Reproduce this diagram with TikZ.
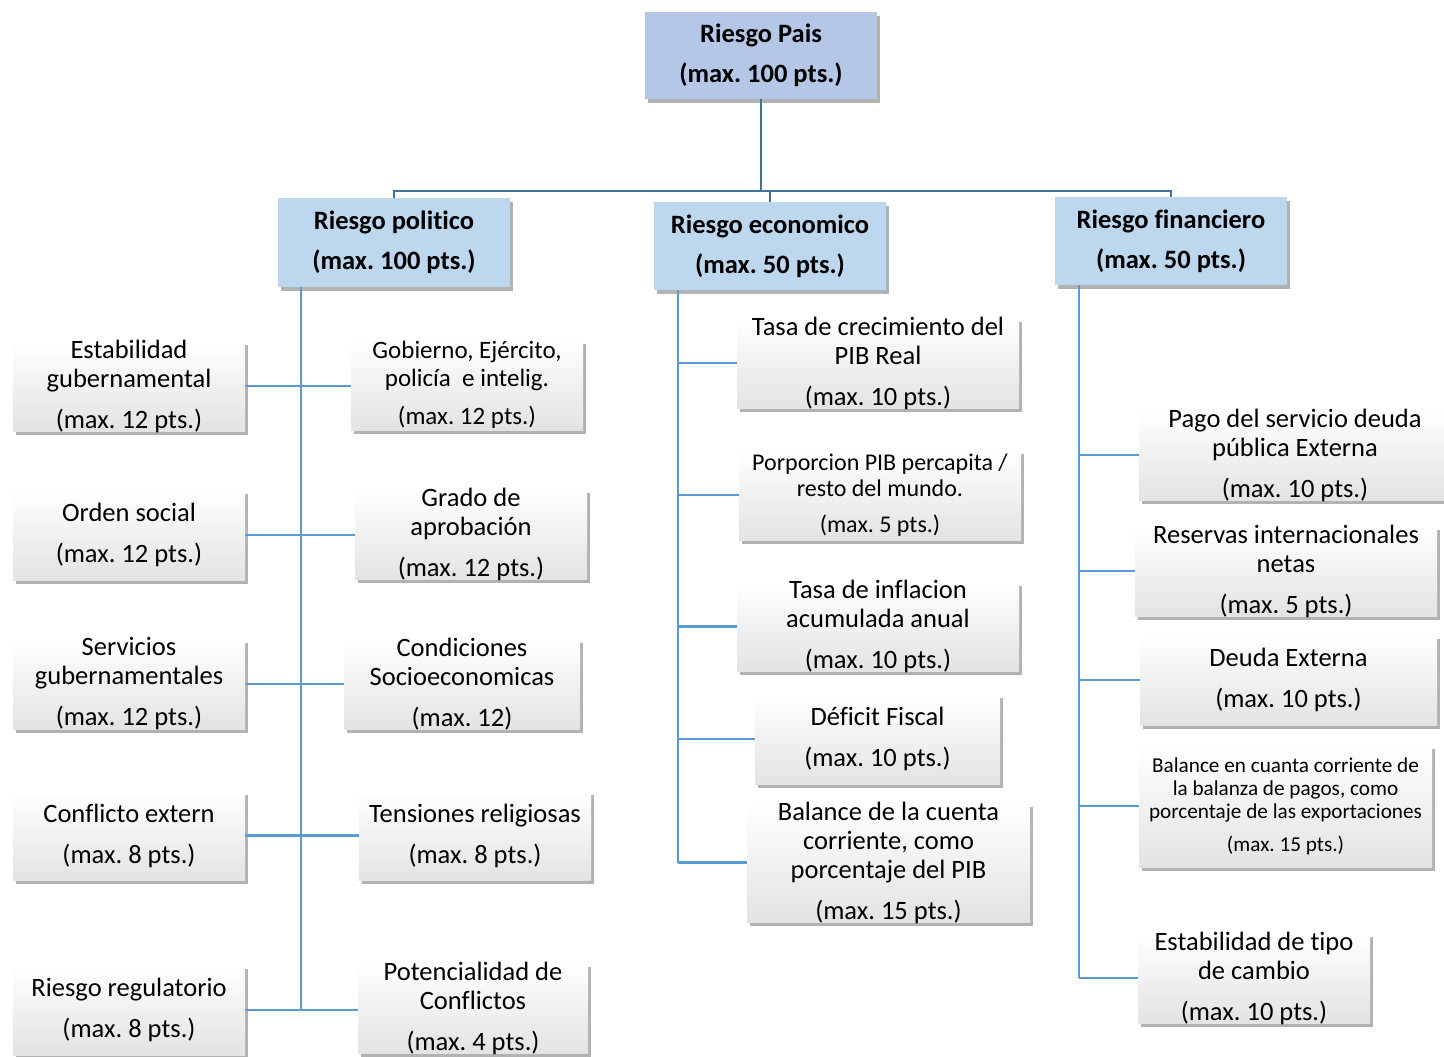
\documentclass[tikz,border=0pt]{standalone}
\usepackage{fontspec}
\setmainfont[RawFeature={-liga;-clig;-dlig}]{Carlito}
\usetikzlibrary{shadows}
\definecolor{topline}{HTML}{41719C}
\definecolor{subline}{HTML}{5B9BD5}
\definecolor{paisfill}{HTML}{B4C7E7}
\definecolor{lvlfill}{HTML}{BDD7EE}
\newcommand\fnorm{\fontsize{26.5}{29}\selectfont}
\newcommand\fgob{\fontsize{25}{28}\selectfont}
\newcommand\fpor{\fontsize{24}{26}\selectfont}
\newcommand\fbal{\fontsize{21.2}{23}\selectfont}
\newcommand\fhead{\bfseries\fontsize{26.5}{40}\selectfont}
\newcommand\mkbox[8]{%
  \node[#6, minimum width=#4pt, minimum height=#5pt] (#1) at (#2,#3) {};
  \node[txt, font=#7] (#1t) at (#1.center) {#8};}
\tikzset{
  x=1pt, y=-1pt,
  shad/.style={drop shadow={shadow xshift=3pt, shadow yshift=-4pt, opacity=0.3, fill=black}},
  wbox/.style={rectangle, inner sep=0pt, top color=white, middle color=white, bottom color=black!11, shad},
  pbox/.style={rectangle, inner sep=0pt, fill=paisfill, shad},
  hbox/.style={rectangle, inner sep=0pt, fill=lvlfill, shad},
  txt/.style={inner sep=0pt, align=center},
  tconn/.style={draw=topline, line width=2.2pt},
  sconn/.style={draw=subline, line width=2.6pt},
}
\begin{document}
\frenchspacing
\begin{tikzpicture}
\useasboundingbox (0,0) rectangle (1444,1057);
\fill[white] (0,0) rectangle (1444,1057);
\coordinate (bus) at (0,191);
\coordinate (polx) at (301,0);
\coordinate (ecox) at (678,0);
\coordinate (finx) at (1079,0);

\mkbox{pais}{761}{55.5}{232}{87}{pbox}{\fhead}{Riesgo Pais\\(max. 100 pts.)}
\mkbox{pol}{394}{242.5}{232}{89}{hbox}{\fhead}{Riesgo politico\\(max. 100 pts.)}
\mkbox{eco}{770}{246}{232}{88}{hbox}{\fhead}{Riesgo economico\\(max. 50 pts.)}
\mkbox{fin}{1171}{241}{232}{88}{hbox}{\fhead}{Riesgo financiero\\(max. 50 pts.)}

\draw[tconn] (pais.south) -- (pais.south |- bus) -| (pol.north);
\draw[tconn] (pais.south) -- (pais.south |- bus) -| (eco.north);
\draw[tconn] (pais.south) -- (pais.south |- bus) -| (fin.north);

\mkbox{l1}{129}{386}{232}{90}{wbox}{\fnorm}{Estabilidad\\gubernamental\\[12pt](max. 12 pts.)}
\mkbox{l2}{129}{535}{232}{90}{wbox}{\fnorm}{Orden social\\[12pt](max. 12 pts.)}
\mkbox{l3}{129}{684}{232}{90}{wbox}{\fnorm}{Servicios\\gubernamentales\\[12pt](max. 12 pts.)}
\mkbox{l4}{129}{835.5}{232}{89}{wbox}{\fnorm}{Conflicto extern\\[12pt](max. 8 pts.)}
\mkbox{l5}{129}{1010}{232}{90}{wbox}{\fnorm}{Riesgo regulatorio\\[12pt](max. 8 pts.)}

\mkbox{r1}{467}{385}{232}{90}{wbox}{\fgob}{Gobierno, Ejército,\\policía~ e intelig.\\[10pt](max. 12 pts.)}
\mkbox{r2}{471}{534}{232}{90}{wbox}{\fnorm}{Grado de\\aprobación\\[12pt](max. 12 pts.)}
\mkbox{r3}{462}{684}{236}{90}{wbox}{\fnorm}{Condiciones\\Socioeconomicas\\[12pt](max. 12)}
\mkbox{r4}{475}{835.5}{232}{89}{wbox}{\fnorm}{Tensiones religiosas\\[12pt](max. 8 pts.)}
\mkbox{r5}{473}{1008}{230}{90}{wbox}{\fnorm}{Potencialidad de\\Conflictos\\[12pt](max. 4 pts.)}

\mkbox{e1}{878}{363}{282}{90}{wbox}{\fnorm}{Tasa de crecimiento del\\PIB Real\\[12pt](max. 10 pts.)}
\mkbox{e2}{880}{495}{282}{90}{wbox}{\fpor}{Porporcion PIB percapita /\\resto del mundo.\\[10pt](max. 5 pts.)}
\mkbox{e3}{878}{626.5}{282}{89}{wbox}{\fnorm}{Tasa de inflacion\\acumulada anual\\[12pt](max. 10 pts.)}
\mkbox{e4}{877.5}{739}{245}{90}{wbox}{\fnorm}{Déficit Fiscal\\[12pt](max. 10 pts.)}
\mkbox{e5}{888.5}{862.5}{283}{119}{wbox}{\fnorm}{Balance de la cuenta\\corriente, como\\porcentaje del PIB\\[12pt](max. 15 pts.)}

\mkbox{f1}{1295}{455}{312}{90}{wbox}{\fnorm}{Pago del servicio deuda\\pública Externa\\[12pt](max. 10 pts.)}
\mkbox{f2}{1286}{571}{302}{90}{wbox}{\fnorm}{Reservas internacionales\\netas\\[12pt](max. 5 pts.)}
\mkbox{f3}{1288.5}{680}{297}{90}{wbox}{\fnorm}{Deuda Externa\\[12pt](max. 10 pts.)}
\mkbox{f4}{1285.5}{806}{293}{122}{wbox}{\fbal}{Balance en cuanta corriente de\\la balanza de pagos, como\\porcentaje de las exportaciones\\[10pt](max. 15 pts.)}
\mkbox{f5}{1254}{978}{232}{90}{wbox}{\fnorm}{Estabilidad de tipo\\de cambio\\[12pt](max. 10 pts.)}

% political column
\draw[sconn] (pol.south -| polx) -- (l5.east -| polx);
\draw[sconn] (l1.east) -- (l1.east -| r1.west);
\draw[sconn] (l2.east) -- (l2.east -| r2.west);
\draw[sconn] (l3.east) -- (l3.east -| r3.west);
\draw[sconn] (l4.east) -- (l4.east -| r4.west);
\draw[sconn] (l5.east) -- (l5.east -| r5.west);

% economic column
\draw[sconn] (eco.south -| ecox) -- (e5.west -| ecox);
\draw[sconn] (e1.west -| ecox) -- (e1.west);
\draw[sconn] (e2.west -| ecox) -- (e2.west);
\draw[sconn] (e3.west -| ecox) -- (e3.west);
\draw[sconn] (e4.west -| ecox) -- (e4.west);
\draw[sconn] (e5.west -| ecox) -- (e5.west);

% financial column
\draw[sconn] (fin.south -| finx) -- (f5.west -| finx);
\draw[sconn] (f1.west -| finx) -- (f1.west);
\draw[sconn] (f2.west -| finx) -- (f2.west);
\draw[sconn] (f3.west -| finx) -- (f3.west);
\draw[sconn] (f4.west -| finx) -- (f4.west);
\draw[sconn] (f5.west -| finx) -- (f5.west);
\end{tikzpicture}
\end{document}
